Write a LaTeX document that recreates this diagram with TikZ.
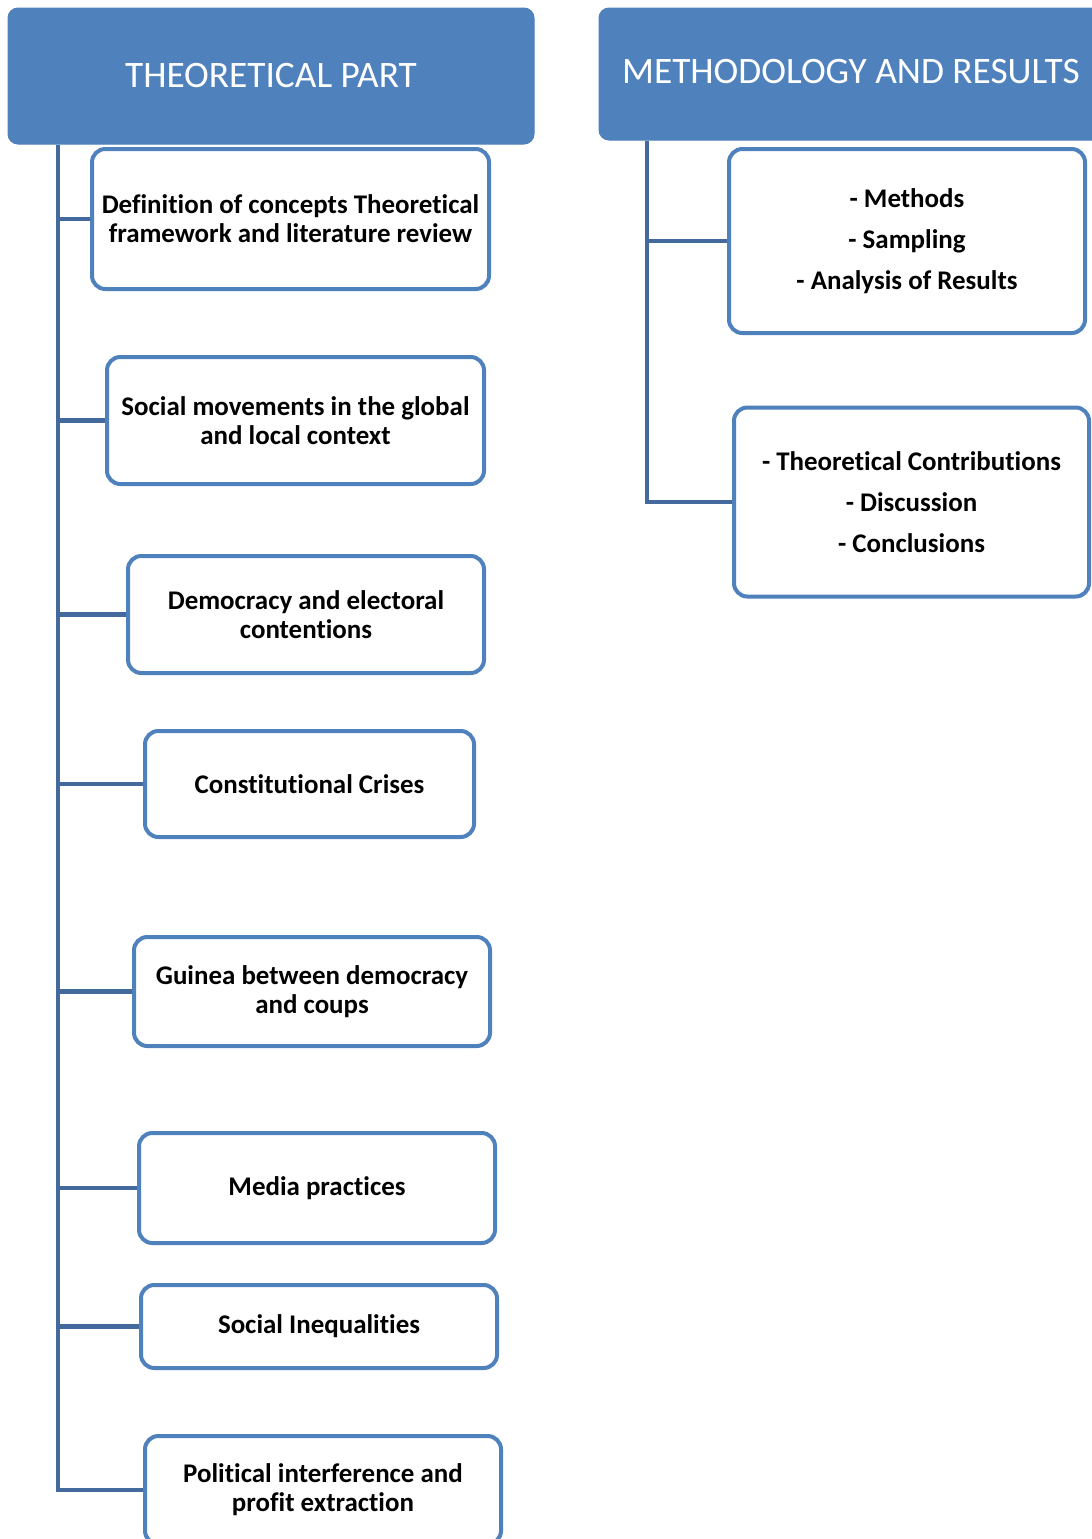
\documentclass[tikz,border=0pt]{standalone}
\usepackage{fontspec}
\setmainfont{Carlito}[Ligatures=NoCommon]
\usetikzlibrary{backgrounds}
\definecolor{acc}{HTML}{4F81BD}
\definecolor{lnk}{HTML}{44699C}
\begin{document}
\begin{tikzpicture}[x=0.75pt,y=-0.75pt,
  header/.style={draw=acc, fill=acc, line width=0.75pt, rounded corners=7.5pt,
    text=white, font=\fontsize{28}{32}\selectfont, inner sep=0pt},
  item/.style={draw=acc, fill=white, line width=3pt, rounded corners=10pt,
    align=center, font=\fontsize{20.2}{21.75}\selectfont\bfseries, inner sep=0pt},
  itemr/.style={item, font=\fontsize{20.2}{30.75}\selectfont\bfseries},
  conn/.style={draw=lnk, line width=3.5pt}]
\useasboundingbox (0,0) rectangle (1092,1539);
\clip (0,0) rectangle (1092,1539);

% headers
\node[header, minimum width=394.5pt, minimum height=102pt] (tl) at (271,76) {THEORETICAL PART};
\node[header, minimum width=378pt, minimum height=99pt] (tr) at (851,74) {\raisebox{4.5pt}{METHODOLOGY AND RESULTS}};

% left items
\node[item, minimum width=297.75pt, minimum height=105pt] (b1) at (290.5,219)
  {Definition of concepts Theoretical\\framework and literature review};
\node[item, minimum width=282.75pt, minimum height=95.25pt] (b2) at (295.5,420.5)
  {Social movements in the global\\and local context};
\node[item, minimum width=267pt, minimum height=87.75pt] (b3) at (306,614.5)
  {Democracy and electoral\\contentions};
\node[item, minimum width=246.75pt, minimum height=79.5pt] (b4) at (309.5,784)
  {Constitutional Crises};
\node[item, minimum width=267pt, minimum height=81.75pt] (b5) at (312,991.5)
  {Guinea between democracy\\and coups};
\node[item, minimum width=267pt, minimum height=82.5pt] (b6) at (317,1188)
  {Media practices};
\node[item, minimum width=267pt, minimum height=62.25pt] (b7) at (319,1326.5)
  {Social Inequalities};
\node[item, minimum width=267pt, minimum height=81pt] (b8) at (323,1490)
  {Political interference and\\profit extraction};

% right items
\node[itemr, minimum width=267pt, minimum height=138pt] (r1) at (907,241)
  {- Methods\\- Sampling\\- Analysis of Results};
\node[itemr, minimum width=266.25pt, minimum height=141.75pt] (r2) at (911.5,502)
  {- Theoretical Contributions\\- Discussion\\- Conclusions};

\coordinate (lroot) at (58,145);
\coordinate (rroot) at (647,141);

\begin{scope}[on background layer]
  \fill[white] (0,0) rectangle (1092,1539);
  \draw[conn] (lroot) |- (b8.west);
  \foreach \i in {1,...,7} {\draw[conn] (b\i.west -| lroot) -- (b\i.west);}
  \draw[conn] (rroot) |- (r2.west);
  \draw[conn] (r1.west -| rroot) -- (r1.west);
\end{scope}
\end{tikzpicture}
\end{document}
